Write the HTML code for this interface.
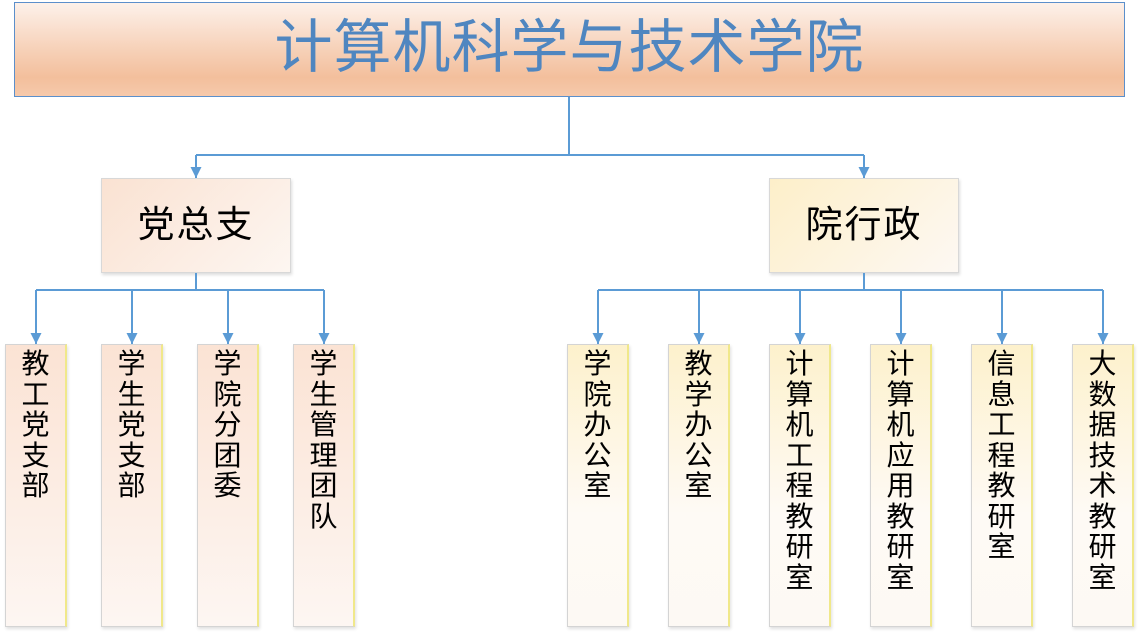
<!DOCTYPE html>
<html><head><meta charset="utf-8"><style>
body{margin:0;width:1140px;height:636px;background:#fff;position:relative;overflow:hidden;font-family:"Liberation Sans","Noto Sans CJK SC",sans-serif;}
.b{position:absolute;box-sizing:border-box;}
.title{left:14px;top:2px;width:1111px;height:95px;border:1px solid #5b8fcb;background:linear-gradient(#fdf1ea 0%,#f7d4bd 45%,#f3bf9c 80%,#f6c9ab 100%);color:#4f86c0;font-size:58px;text-align:center;line-height:90px;letter-spacing:1px;}
.mid{width:190px;height:95px;border:1px solid #d8d8d8;font-size:37px;text-align:center;line-height:92px;color:#000;box-shadow:1px 2px 3px #ddd;letter-spacing:2px;}
.ch{top:344px;width:62px;height:283px;border:1px solid #d4d4d4;border-right:2px solid #f0e88a;font-size:28px;line-height:30.5px;text-align:center;padding-top:4px;box-shadow:1px 2px 3px #e0e0e0;}
.p{background:linear-gradient(#fbe3d4,#fdf6f2);}
.y{background:linear-gradient(#fdf1cc,#fefaf5 60%,#fdf9f4);}
</style></head><body>
<div class="b title">计算机科学与技术学院</div>
<div class="b mid" style="left:101px;top:178px;background:linear-gradient(135deg,#fae2d2,#fdf6f1);">党总支</div>
<div class="b mid" style="left:769px;top:178px;background:linear-gradient(135deg,#fdefc9,#fdf8f3);">院行政</div>
<svg class="b" style="left:0;top:0" width="1140" height="636">
<defs><marker id="a" markerWidth="12" markerHeight="12" refX="11" refY="5.5" orient="auto" markerUnits="userSpaceOnUse"><path d="M0,0 L11,5.5 L0,11 z" fill="#5b9bd5"/></marker></defs>
<g stroke="#5b9bd5" stroke-width="2" fill="none">
<path d="M569,97 V155 M196,155 H864"/>
<path d="M196,155 V178" marker-end="url(#a)"/><path d="M864,155 V178" marker-end="url(#a)"/>
<path d="M196,273 V290 M36,290 H324 M864,273 V290 M598,290 H1103"/>
<path d="M36,290 V344" marker-end="url(#a)"/><path d="M132,290 V344" marker-end="url(#a)"/>
<path d="M228,290 V344" marker-end="url(#a)"/><path d="M324,290 V344" marker-end="url(#a)"/>
<path d="M598,290 V344" marker-end="url(#a)"/><path d="M699,290 V344" marker-end="url(#a)"/>
<path d="M800,290 V344" marker-end="url(#a)"/><path d="M901,290 V344" marker-end="url(#a)"/>
<path d="M1002,290 V344" marker-end="url(#a)"/><path d="M1103,290 V344" marker-end="url(#a)"/>
</g></svg>
<div class="b ch p" style="left:5px">教<br>工<br>党<br>支<br>部</div>
<div class="b ch p" style="left:101px">学<br>生<br>党<br>支<br>部</div>
<div class="b ch p" style="left:197px">学<br>院<br>分<br>团<br>委</div>
<div class="b ch p" style="left:293px">学<br>生<br>管<br>理<br>团<br>队</div>
<div class="b ch y" style="left:567px">学<br>院<br>办<br>公<br>室</div>
<div class="b ch y" style="left:668px">教<br>学<br>办<br>公<br>室</div>
<div class="b ch y" style="left:769px">计<br>算<br>机<br>工<br>程<br>教<br>研<br>室</div>
<div class="b ch y" style="left:870px">计<br>算<br>机<br>应<br>用<br>教<br>研<br>室</div>
<div class="b ch y" style="left:971px">信<br>息<br>工<br>程<br>教<br>研<br>室</div>
<div class="b ch y" style="left:1072px">大<br>数<br>据<br>技<br>术<br>教<br>研<br>室</div>
</body></html>
